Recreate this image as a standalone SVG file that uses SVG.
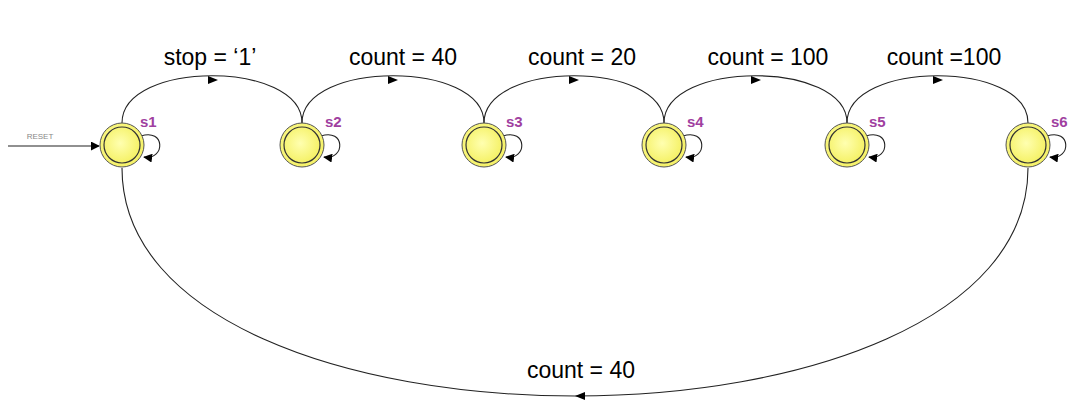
<svg xmlns="http://www.w3.org/2000/svg" width="1085" height="417" viewBox="0 0 1085 417">
<style>
.lbl{font-family:"Liberation Sans",Arial,sans-serif;font-size:23px;fill:#000;text-anchor:middle}
.sn{font-family:"Liberation Sans",Arial,sans-serif;font-size:15px;font-weight:bold;fill:#a040a0}
.edge{fill:none;stroke:#222;stroke-width:1.1}
.outer{stroke:#555;stroke-width:1}
.inner{stroke:#333;stroke-width:1.2}
</style>
<defs>
<radialGradient id="g" cx="0.45" cy="0.45" r="0.6">
<stop offset="0" stop-color="#ffffb0"/>
<stop offset="1" stop-color="#f4f060"/>
</radialGradient>
<marker id="ah" viewBox="0 0 10 10" refX="9" refY="5" markerWidth="9" markerHeight="9" markerUnits="userSpaceOnUse" orient="auto">
<path d="M0,0 L10,5 L0,10 z" fill="#000"/>
</marker>
</defs>
<rect width="1085" height="417" fill="#fff"/>
<g id="connectors">
<line class="edge" x1="8" y1="146" x2="99" y2="146" marker-end="url(#ah)"/>
<text x="40" y="139" font-family="Liberation Sans,Arial,sans-serif" font-size="8" fill="#888" text-anchor="middle">RESET</text>
<path class="edge" d="M122,123 C122,60 302,60 302,123"/>
<path class="edge" d="M302,123 C302,60 484,60 484,123"/>
<path class="edge" d="M484,123 C484,60 664,60 664,123"/>
<path class="edge" d="M664,123 C664,60 847,60 847,123"/>
<path class="edge" d="M847,123 C847,60 1028,60 1028,123"/>
<path class="edge" d="M122,168 C122,472 1028,472 1028,168"/>
<path d="M208,76 L218,80 L208,84 z" fill="#000"/>
<path d="M388,76 L398,80 L388,84 z" fill="#000"/>
<path d="M569,76 L579,80 L569,84 z" fill="#000"/>
<path d="M751,76 L761,80 L751,84 z" fill="#000"/>
<path d="M933,76 L943,80 L933,84 z" fill="#000"/>
<path d="M585,392 L575,396 L585,400 z" fill="#000"/>
<text class="lbl" x="210" y="65">stop = ‘1’</text>
<text class="lbl" x="403" y="65">count = 40</text>
<text class="lbl" x="582" y="65">count = 20</text>
<text class="lbl" x="768" y="65">count = 100</text>
<text class="lbl" x="944" y="65">count =100</text>
<text class="lbl" x="581" y="378">count = 40</text>
</g>
<g id="s1">
<path class="edge" d="M141,136 C165,128 166,160 144,157" marker-end="url(#ah)"/>
<circle class="outer" cx="122" cy="145" r="22" fill="url(#g)"/>
<circle class="inner" cx="122" cy="145" r="18" fill="url(#g)"/>
<text class="sn" x="140" y="127">s1</text>
</g>
<g id="s2">
<path class="edge" d="M321,136 C345,128 346,160 324,157" marker-end="url(#ah)"/>
<circle class="outer" cx="302" cy="145" r="22" fill="url(#g)"/>
<circle class="inner" cx="302" cy="145" r="18" fill="url(#g)"/>
<text class="sn" x="325" y="127">s2</text>
</g>
<g id="s3">
<path class="edge" d="M503,136 C527,128 528,160 506,157" marker-end="url(#ah)"/>
<circle class="outer" cx="484" cy="145" r="22" fill="url(#g)"/>
<circle class="inner" cx="484" cy="145" r="18" fill="url(#g)"/>
<text class="sn" x="506" y="127">s3</text>
</g>
<g id="s4">
<path class="edge" d="M683,136 C707,128 708,160 686,157" marker-end="url(#ah)"/>
<circle class="outer" cx="664" cy="145" r="22" fill="url(#g)"/>
<circle class="inner" cx="664" cy="145" r="18" fill="url(#g)"/>
<text class="sn" x="687" y="127">s4</text>
</g>
<g id="s5">
<path class="edge" d="M866,136 C890,128 891,160 869,157" marker-end="url(#ah)"/>
<circle class="outer" cx="847" cy="145" r="22" fill="url(#g)"/>
<circle class="inner" cx="847" cy="145" r="18" fill="url(#g)"/>
<text class="sn" x="869" y="127">s5</text>
</g>
<g id="s6">
<path class="edge" d="M1047,136 C1071,128 1072,160 1050,157" marker-end="url(#ah)"/>
<circle class="outer" cx="1028" cy="145" r="22" fill="url(#g)"/>
<circle class="inner" cx="1028" cy="145" r="18" fill="url(#g)"/>
<text class="sn" x="1051" y="127">s6</text>
</g>
</svg>
